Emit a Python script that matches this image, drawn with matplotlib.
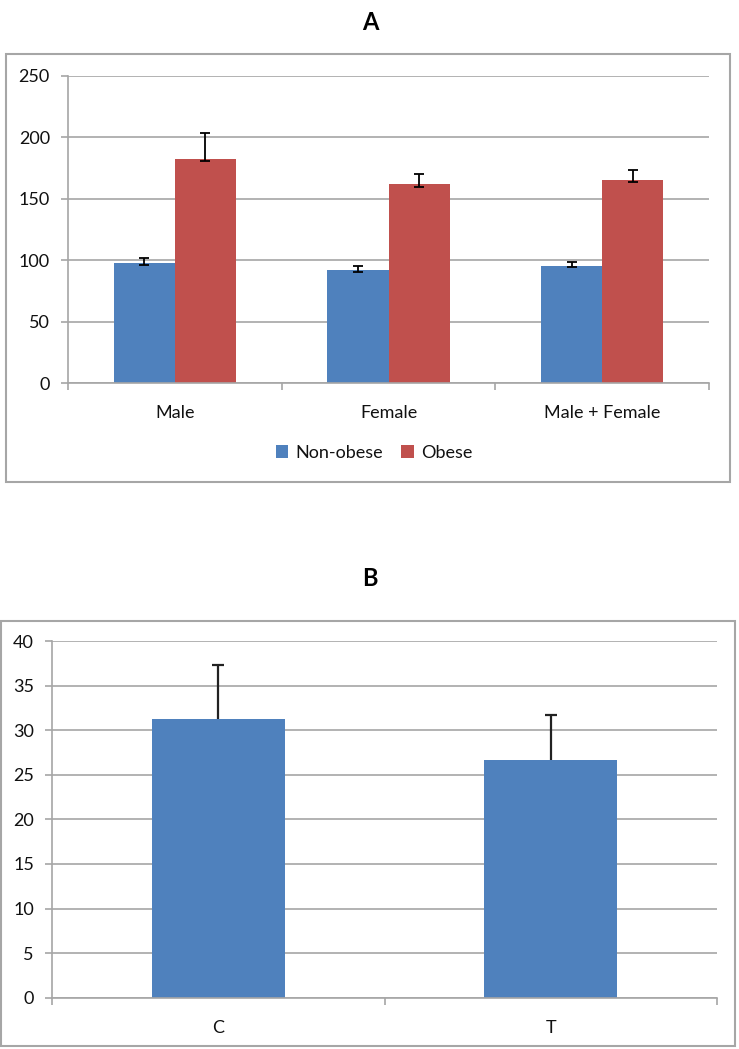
import matplotlib
matplotlib.use("Agg")
import matplotlib.pyplot as plt
from matplotlib.patches import Rectangle
import numpy as np

plt.rcParams['font.family'] = ['Lato', 'DejaVu Sans']

# panel A data
groups = ['Male', 'Female', 'Male + Female']
non_obese = [98, 92, 95.5]
non_obese_lo = [2, 1.5, 1]
non_obese_hi = [4, 3.5, 3]
obese = [182.5, 162, 165.5]
obese_lo = [2, 2, 2]
obese_hi = [21, 8, 8]
a_ticks = [0, 50, 100, 150, 200, 250]

# panel B data
b_groups = ['C', 'T']
b_values = [31.2, 26.6]
b_err_hi = [6.1, 5.1]
b_ticks = [0, 5, 10, 15, 20, 25, 30, 35, 40]

BLUE = '#4F81BD'
RED = '#C0504D'
GRID = '#a6a6a6'
W, H = 739, 1049

fig = plt.figure(figsize=(W / 100, H / 100), dpi=100)


def fx(px):
    return px / W


def fy(py):
    return 1 - py / H


def style_axes(ax, ticks, ncat):
    ax.set_ylim(ticks[0], ticks[-1])
    ax.set_yticks(ticks)
    ax.set_xlim(0, ncat)
    ax.set_xticks(np.arange(ncat + 1))
    ax.set_xticklabels([])
    ax.yaxis.grid(True, color=GRID, linewidth=1.2)
    ax.set_axisbelow(True)
    for s in ['top', 'right']:
        ax.spines[s].set_visible(False)
    for s in ['left', 'bottom']:
        ax.spines[s].set_color(GRID)
        ax.spines[s].set_linewidth(1.2)
    ax.tick_params(axis='both', which='major', color=GRID, length=5, width=1.2,
                   labelsize=13, pad=8, labelcolor='#111111')
    ax.tick_params(axis='x', which='minor', length=0, labelsize=13, pad=16,
                   labelcolor='#111111')


# boxes around panels
fig.patches.append(Rectangle((fx(6), fy(482)), fx(724), 428 / H, transform=fig.transFigure,
                             fill=False, edgecolor=GRID, linewidth=1.5))
fig.patches.append(Rectangle((fx(1), fy(1046)), fx(734), 425 / H, transform=fig.transFigure,
                             fill=False, edgecolor=GRID, linewidth=1.5))

# ---- panel A ----
axA = fig.add_axes([fx(68), fy(383), fx(709 - 68), (383 - 76) / H])
x = np.arange(len(groups)) + 0.5
bw = 1 / 1.75 / 2
axA.bar(x - bw / 2, non_obese, bw, color=BLUE, label='Non-obese')
axA.bar(x + bw / 2, obese, bw, color=RED, label='Obese')
axA.errorbar(x - bw / 2, non_obese, yerr=[non_obese_lo, non_obese_hi], fmt='none',
             ecolor='black', elinewidth=1.3, capsize=3.5, capthick=1.3)
axA.errorbar(x + bw / 2, obese, yerr=[obese_lo, obese_hi], fmt='none',
             ecolor='black', elinewidth=1.3, capsize=3.5, capthick=1.3)
style_axes(axA, a_ticks, len(groups))
axA.set_xticks(x, minor=True)
axA.set_xticklabels(groups, minor=True)
leg = fig.legend(loc='center', bbox_to_anchor=(fx(374), fy(453)), ncol=2, frameon=False,
                 fontsize=13, handlelength=0.7, handleheight=0.7, handletextpad=0.4,
                 columnspacing=1.0)
for t in leg.get_texts():
    t.set_color('#111111')
fig.text(fx(370), fy(22), 'A', ha='center', va='center', fontsize=17, fontweight='bold')

# ---- panel B ----
axB = fig.add_axes([fx(52), fy(997.7), fx(717 - 52), (997.7 - 641) / H])
xb = np.arange(len(b_groups)) + 0.5
bwb = 1 / 2.5
axB.bar(xb, b_values, bwb, color=BLUE)
axB.errorbar(xb, b_values, yerr=[[0] * len(b_values), b_err_hi], fmt='none',
             ecolor='#222222', elinewidth=1.6, capsize=0)
axB.plot(xb, np.array(b_values) + np.array(b_err_hi), linestyle='none', marker='_',
         markersize=8, markeredgewidth=1.6, color='#222222')
style_axes(axB, b_ticks, len(b_groups))
axB.set_xticks(xb, minor=True)
axB.set_xticklabels(b_groups, minor=True)
fig.text(fx(370), fy(578), 'B', ha='center', va='center', fontsize=17, fontweight='bold')

fig.savefig('out.png', dpi=100)
